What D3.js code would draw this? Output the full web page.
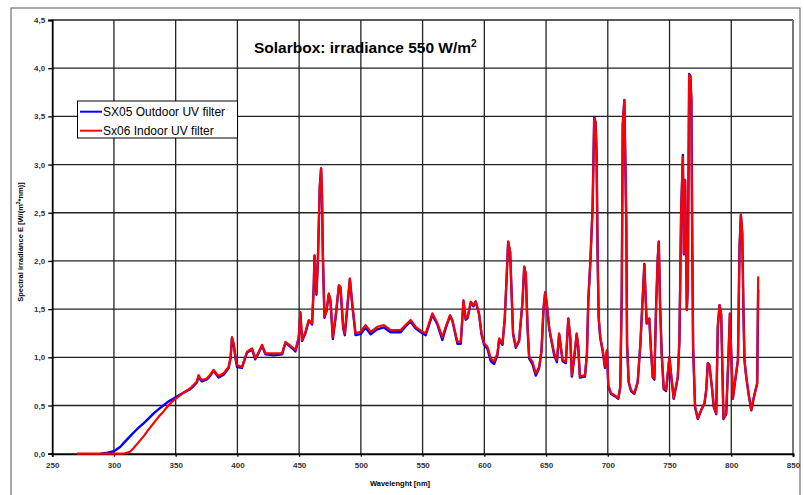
<!DOCTYPE html>
<html><head><meta charset="utf-8">
<script src="https://cdn.jsdelivr.net/npm/d3@7"></script>
<style>body{margin:0;background:#fff}svg{display:block;font-family:"Liberation Sans",Arial,sans-serif}</style>
</head><body><svg id="c" width="804" height="495"></svg>
<script>
const title = "Solarbox: irradiance 550 W/m";
const seriesNames = ["SX05 Outdoor UV filter", "Sx06 Indoor UV filter"];
const xTicks = [250,300,350,400,450,500,550,600,650,700,750,800,850];
const yTicks = [0,0.5,1,1.5,2,2.5,3,3.5,4,4.5];
const wavelengths = [270,280,289,295,300,305,309,313,316,320,324,328,332,336,340,344,348,352,356,
361.8,365,367.2,368.5,370,371.3,375.3,378,380.7,382.5,384.8,388.8,392.9,394.5,395.6,397,398.5,399.7,403.7,407.8,411.9,414.5,417,420,422.7,429.4,436.2,438.9,442,445.6,447,449.7,451,452.4,455.1,457.8,460.5,461.9,462.4,463.2,464,465.1,466.7,467.8,468.5,469.2,470.5,472.2,474,475.4,477.3,479.5,482.2,483.5,485.7,487,489,491.1,493,495.7,499.7,503.8,507.9,513.3,518.7,524.1,532.2,536.2,540.3,544.4,549.8,552.5,557.9,562,566,568.7,572.2,574.1,578.2,580.9,583.1,584.9,586.5,589,591.2,593,595.7,597.7,599.8,602.5,605.2,607.9,610.6,612,614.7,616.6,618,619.3,620.9,622,623.3,625.5,628.2,630.9,632.3,633.6,635,636.3,639,641.7,644.4,646.3,648,649.3,650.6,652.5,653.9,656.6,658.8,660.6,662,663.4,666,668,669.6,670.9,672.8,674.8,676.1,677.4,681.5,683.1,684.2,685.8,687.7,689,690.1,690.9,691.8,692.6,693.9,695.9,697.7,699.3,700.4,702.6,705.3,708.5,710.1,711.3,712.1,713.4,714.2,715,715.6,716.9,718.8,721.5,724.2,726.4,728.3,729.6,730.4,731.5,733.6,735,736.4,737.7,739.1,740.5,741.3,742.3,743.7,745.3,747.2,749.9,751.5,753.4,756.7,758,759.4,760.8,761.6,762.6,764,764.8,765.9,766.9,767.7,768.3,769.1,770.7,772.9,775.6,778.3,779.7,781,782.3,784.3,785.9,787.8,789.1,790.5,791.8,792.6,793.7,795.9,797.8,798.9,800,801.3,803.2,805.4,806.7,807.8,808.9,809.9,810.7,812.1,814,816.2,818.4,821,821.8];
const indoor = [0,0,0,0,0,0,0.003,0.02,0.06,0.12,0.18,0.25,0.315,0.38,0.436,0.5,0.55,0.59,0.63,
0.68,0.72,0.75,0.816,0.78,0.765,0.78,0.82,0.87,0.84,0.806,0.834,0.9,1.0,1.21,1.145,1.0,0.92,0.9,1.058,1.093,0.99,1.05,1.13,1.04,1.04,1.04,1.16,1.13,1.093,1.075,1.21,1.47,1.18,1.265,1.387,1.353,1.768,2.06,1.9,1.664,1.975,2.77,2.96,2.7,2.08,1.42,1.49,1.664,1.594,1.21,1.42,1.75,1.732,1.317,1.249,1.525,1.82,1.56,1.249,1.265,1.335,1.265,1.317,1.335,1.283,1.283,1.335,1.387,1.317,1.265,1.249,1.456,1.353,1.21,1.317,1.439,1.387,1.162,1.162,1.594,1.405,1.42,1.577,1.543,1.577,1.456,1.25,1.145,1.11,0.99,0.954,1.04,1.197,1.145,1.42,1.82,2.2,2.095,1.698,1.249,1.11,1.18,1.577,1.94,1.87,1.317,1.006,0.954,0.834,0.902,1.076,1.525,1.68,1.56,1.317,1.21,1.04,0.972,1.249,1.11,0.972,0.954,1.405,1.21,0.816,1.006,1.249,1.11,0.8,0.816,1.04,1.594,1.975,2.56,3.48,3.43,3.116,2.027,1.42,1.21,1.076,0.902,1.076,0.713,0.627,0.609,0.574,0.695,1.664,3.41,3.67,3.047,2.355,1.145,0.747,0.661,0.627,0.747,1.145,1.629,1.957,1.698,1.353,1.405,1.076,0.8,0.782,1.525,2.04,2.2,1.56,1.024,0.678,0.661,1.006,0.8,0.574,0.8,1.18,2.51,3.08,2.08,2.84,1.49,1.73,3.93,3.91,3.67,2.355,1.11,0.488,0.367,0.453,0.523,0.661,0.938,0.92,0.695,0.488,0.419,1.317,1.543,1.456,1.006,0.367,0.419,1.04,1.456,1.04,0.574,0.764,0.972,2.147,2.476,2.286,1.456,0.972,0.8,0.627,0.453,0.592,0.73,1.84];
const outdoor = [null,null,0,0.01,0.025,0.07,0.125,0.18,0.22,0.27,0.315,0.365,0.415,0.46,0.5,0.54,0.57,0.6,0.63,
0.67,0.71,0.74,0.8,0.77,0.75,0.77,0.81,0.86,0.83,0.79,0.82,0.89,0.99,1.2,1.13,0.99,0.9,0.89,1.05,1.08,0.98,1.04,1.12,1.03,1.02,1.03,1.15,1.12,1.08,1.06,1.2,1.46,1.17,1.25,1.38,1.34,1.76,2.05,1.89,1.65,1.96,2.76,2.96,2.69,2.07,1.41,1.48,1.65,1.58,1.19,1.41,1.74,1.72,1.3,1.23,1.51,1.81,1.55,1.23,1.24,1.31,1.24,1.29,1.31,1.26,1.26,1.32,1.37,1.3,1.25,1.23,1.44,1.34,1.18,1.3,1.43,1.38,1.14,1.14,1.58,1.39,1.41,1.57,1.53,1.58,1.45,1.24,1.13,1.09,0.96,0.93,1.02,1.18,1.13,1.41,1.81,2.2,2.09,1.69,1.24,1.1,1.17,1.57,1.94,1.86,1.3,0.99,0.93,0.81,0.89,1.06,1.51,1.67,1.55,1.3,1.2,1.02,0.95,1.24,1.1,0.96,0.94,1.4,1.2,0.8,0.99,1.24,1.1,0.79,0.8,1.03,1.59,1.97,2.56,3.49,3.44,3.12,2.02,1.41,1.2,1.06,0.89,1.07,0.7,0.62,0.6,0.57,0.69,1.66,3.41,3.67,3.04,2.35,1.14,0.74,0.65,0.62,0.74,1.14,1.63,1.97,1.7,1.35,1.4,1.07,0.79,0.77,1.52,2.04,2.2,1.56,1.02,0.67,0.65,1.0,0.79,0.57,0.79,1.17,2.51,3.1,2.07,2.84,1.49,1.73,3.94,3.92,3.67,2.35,1.1,0.48,0.36,0.45,0.52,0.66,0.94,0.92,0.69,0.48,0.41,1.32,1.54,1.45,1.0,0.36,0.41,1.04,1.45,1.04,0.57,0.76,0.97,2.15,2.48,2.28,1.45,0.97,0.8,0.62,0.45,0.59,0.73,1.7];

const svg = d3.select("#c");
const x = d3.scaleLinear().domain([250,850]).range([52.2,793]);
const y = d3.scaleLinear().domain([0,4.5]).range([453.7,20]);
const fmt = v => d3.format(".1f")(v).replace(".", ",");

// outer frame
svg.append("rect").attr("x",11).attr("y",8).attr("width",789).attr("height",500)
  .attr("fill","none").attr("stroke","#555").attr("stroke-width",1);

// gridlines
const g = svg.append("g");
g.selectAll("line.v").data(xTicks.slice(1)).join("line")
  .attr("x1",d=>x(d)).attr("x2",d=>x(d)).attr("y1",y(4.5)).attr("y2",y(0))
  .attr("stroke","#222").attr("stroke-width",1.3);
g.selectAll("line.h").data(yTicks.slice(1)).join("line")
  .attr("x1",x(250)).attr("x2",x(850)).attr("y1",d=>y(d)).attr("y2",d=>y(d))
  .attr("stroke","#222").attr("stroke-width",1.3);
svg.append("line").attr("x1",x(850)).attr("x2",x(850)).attr("y1",y(4.5)).attr("y2",y(0))
  .attr("stroke","#777").attr("stroke-width",2);

// axes
const ya = svg.append("g").attr("transform",`translate(${x(250)},0)`)
  .call(d3.axisLeft(y).tickValues(yTicks).tickFormat(fmt).tickSize(4).tickPadding(3));
const xa = svg.append("g").attr("transform",`translate(0,${y(0)})`)
  .call(d3.axisBottom(x).tickValues(xTicks).tickFormat(d3.format("d")).tickSize(3).tickPadding(6));
[ya,xa].forEach(a=>{
  a.selectAll("text").attr("font-size","8px").attr("font-weight","bold").attr("fill","#333")
    .attr("font-family","'Liberation Sans',Arial,sans-serif");
  a.selectAll(".tick line").attr("stroke","#000").attr("stroke-width",1.3);
});
ya.select(".domain").attr("stroke","#000").attr("stroke-width",1.8);
xa.select(".domain").attr("stroke","#000").attr("stroke-width",2);

// lines
const line = arr => d3.line().defined((d,i)=>arr[i]!==null)
  .x((d,i)=>x(wavelengths[i])).y((d,i)=>y(arr[i]))(wavelengths);
svg.append("path").attr("d",line(outdoor)).attr("fill","none").attr("stroke","#0000ff").attr("stroke-width",2.4).attr("stroke-linejoin","round");
svg.append("path").attr("d",line(indoor)).attr("fill","none").attr("stroke","#ff0000").attr("stroke-width",2.2).attr("stroke-linejoin","round");

// title
const t = svg.append("text").attr("x",254).attr("y",53).attr("font-size","15.5px").attr("font-weight","bold").attr("fill","#000").text(title);
t.append("tspan").attr("dy",-6).attr("font-size","10px").text("2");

// legend
const lg = svg.append("g");
lg.append("rect").attr("x",77.5).attr("y",101).attr("width",160).attr("height",37).attr("fill","#fff").attr("stroke","#000").attr("stroke-width",1);
const colors = ["#0000ff","#ff0000"];
seriesNames.forEach((n,i)=>{
  const cy = 111.7 + i*19;
  lg.append("line").attr("x1",80).attr("x2",102).attr("y1",cy).attr("y2",cy).attr("stroke",colors[i]).attr("stroke-width",2);
  lg.append("text").attr("x",103).attr("y",cy+4.3).attr("font-size","12px").attr("fill","#000").text(n);
});

// axis titles
const yl = svg.append("text").attr("transform","translate(23,242) rotate(-90)").attr("text-anchor","middle")
  .attr("font-size","7.5px").attr("font-weight","bold").attr("fill","#000");
yl.append("tspan").text("Spectral irradiance E [W/(m");
yl.append("tspan").attr("dy",-3).attr("font-size","5px").text("2");
yl.append("tspan").attr("dy",3).text("*nm)]");
svg.append("text").attr("x",400).attr("y",486).attr("text-anchor","middle").attr("font-size","7.5px").attr("font-weight","bold").attr("fill","#000").text("Wavelenght [nm]");
</script></body></html>
